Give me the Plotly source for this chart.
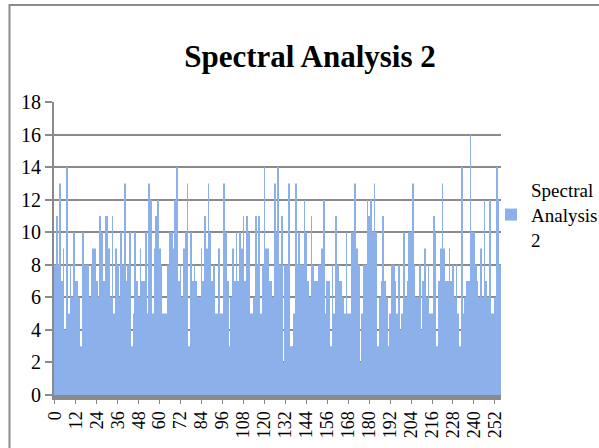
import plotly.graph_objects as go

# Spectral values (index 0..255)
values = [
    8, 11, 8, 13, 7, 9, 4, 14, 5, 8, 6, 10, 7, 7, 6, 3, 10, 8, 8, 8, 6, 8, 9, 9, 7, 6, 11, 10, 7, 11, 11, 9, 6, 11, 5, 9, 8,
    6, 10, 8, 13, 7, 8, 10, 3, 5, 10, 7, 6, 9, 7, 7, 10, 5, 13, 12, 5, 9, 11, 12, 9, 8, 5, 5, 5, 8, 10, 10, 9, 12, 14, 7,
    8, 6, 9, 10, 13, 3, 10, 7, 8, 7, 6, 6, 9, 7, 11, 9, 13, 10, 7, 8, 5, 5, 9, 5, 5, 13, 10, 7, 3, 6, 9, 7, 10, 7, 10, 9, 11,
    7, 11, 10, 5, 5, 6, 11, 8, 11, 5, 8, 14, 9, 9, 7, 7, 6, 13, 10, 14, 8, 11, 2, 8, 8, 13, 3, 3, 5, 13, 8, 10, 8, 8, 12, 10, 7,
    6, 11, 8, 7, 7, 8, 8, 9, 12, 5, 7, 7, 3, 8, 5, 11, 8, 7, 7, 6, 5, 10, 5, 5, 10, 10, 13, 9, 8, 2, 5, 8, 8, 12, 11, 12,
    10, 13, 10, 3, 6, 7, 11, 7, 6, 3, 5, 8, 8, 7, 5, 8, 4, 5, 10, 6, 7, 10, 10, 13, 8, 6, 6, 8, 4, 7, 9, 6, 8, 5, 5, 11, 10, 3,
    7, 9, 13, 9, 7, 7, 9, 7, 8, 6, 8, 5, 3, 14, 5, 6, 7, 7, 16, 10, 10, 8, 7, 6, 9, 6, 12, 7, 6, 12, 5, 5, 6, 14, 12, 8,
]
categories = list(range(len(values)))
tick_vals = [0, 12, 24, 36, 48, 60, 72, 84, 96, 108, 120, 132, 144, 156, 168, 180, 192, 204, 216, 228, 240, 252]
tick_text = ["0", "12", "24", "36", "48", "60", "72", "84", "96", "108", "120", "132",
             "144", "156", "168", "180", "192", "204", "216", "228", "240", "252"]
y_ticks = [0, 2, 4, 6, 8, 10, 12, 14, 16, 18]
series_name = "Spectral<br>Analysis<br>2"
title_text = "Spectral Analysis 2"

W, H = 599, 448
L, R, T, B = 54, 98, 102, 53
pw, ph = W - L - R, H - T - B

fig = go.Figure()
fig.add_trace(go.Bar(
    x=categories, y=values, name=series_name,
    marker=dict(color="#8cb1ea", line=dict(width=0)),
    showlegend=True,
))

serif = "'Liberation Serif', 'DejaVu Serif', serif"
grid = "#8a8a8a"

fig.update_layout(
    width=W, height=H,
    margin=dict(l=L, r=R, t=T, b=B, autoexpand=False),
    paper_bgcolor="white", plot_bgcolor="white",
    bargap=0.55,
    title=dict(text="<b>" + title_text + "</b>", x=310 / W, xref="container", xanchor="center",
               y=1 - 56 / H, yref="container", yanchor="middle",
               font=dict(family=serif, size=31, color="black")),
    font=dict(family=serif, size=17, color="black"),
    legend=dict(x=(491 - L) / pw, xanchor="left", y=(H - B - 171) / ph, yanchor="top",
                font=dict(family=serif, size=19, color="black"),
                bgcolor="rgba(0,0,0,0)", itemwidth=30, tracegroupgap=0),
    showlegend=True,
)
fig.update_xaxes(
    range=[-0.5, len(values) - 0.5],
    tickmode="array", tickvals=tick_vals, ticktext=tick_text, tickangle=-90,
    showgrid=False, zeroline=False,
    showline=True, linecolor=grid, linewidth=5,
    ticks="outside", ticklen=4, tickcolor=grid, tickwidth=1,
    tickfont=dict(family=serif, size=18, color="black"),
)
fig.update_yaxes(
    range=[0, 18], tickmode="array", tickvals=y_ticks,
    showgrid=True, gridcolor=grid, gridwidth=2, zeroline=False,
    showline=True, linecolor=grid, linewidth=2,
    ticks="outside", ticklen=7, tickcolor=grid, tickwidth=2,
    tickfont=dict(family=serif, size=20, color="black"),
)
# outer chart frame (partially cropped in the reference)
fig.add_shape(type="rect", xref="paper", yref="paper",
              x0=(9.5 - L) / pw, x1=(W + 10 - L) / pw,
              y0=(H - B - (H + 10)) / ph, y1=(H - B - 5) / ph,
              line=dict(color="#8c8c8c", width=2), fillcolor="rgba(0,0,0,0)", layer="below")

fig.write_html("out.html", config={"displayModeBar": False},
               post_script="document.body.style.margin='0px';document.body.style.overflow='hidden';")
